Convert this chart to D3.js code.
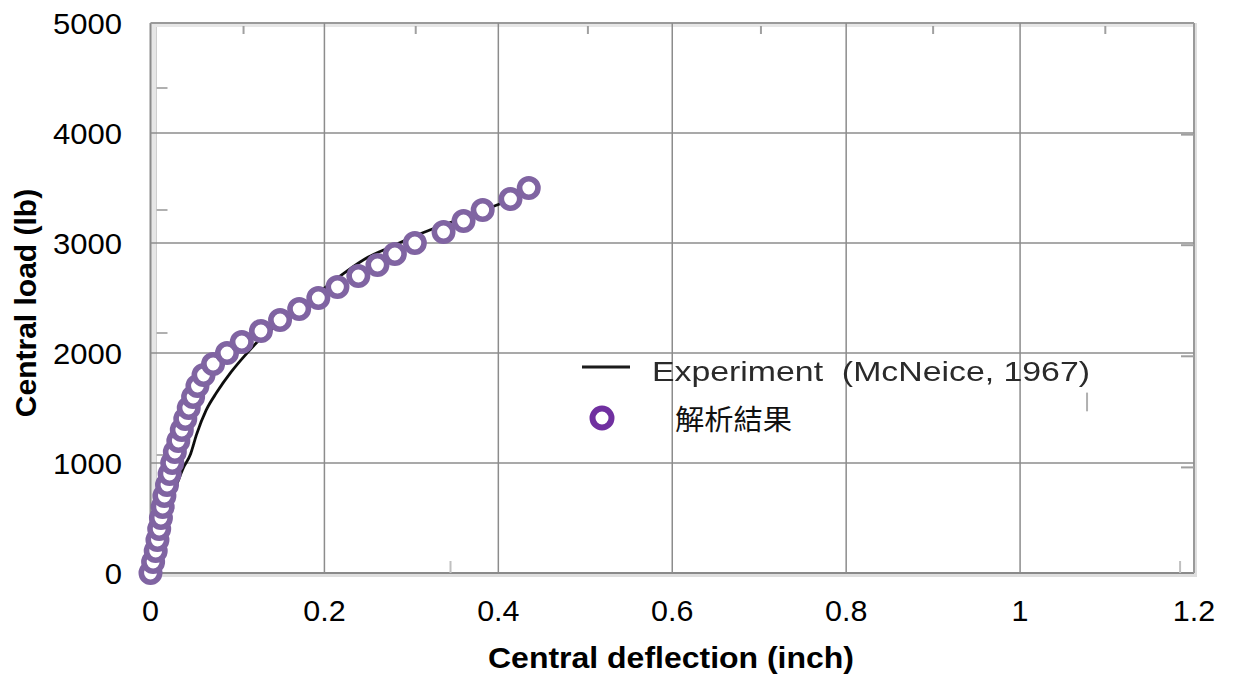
<!DOCTYPE html>
<html>
<head>
<meta charset="utf-8">
<script src="https://cdn.jsdelivr.net/npm/d3@7"></script>
<style>
  html, body { margin: 0; padding: 0; background: #ffffff; }
  svg { display: block; }
</style>
</head>
<body>
<svg id="chart" width="1236" height="675"></svg>
<script>
// ---- data ----
const xTickValues = [0, 0.2, 0.4, 0.6, 0.8, 1, 1.2];
const xTickLabels = ["0", "0.2", "0.4", "0.6", "0.8", "1", "1.2"];
const yTickValues = [0, 1000, 2000, 3000, 4000, 5000];
const yTickLabels = ["0", "1000", "2000", "3000", "4000", "5000"];

// analysis results (解析結果): central load (lb) vs central deflection (inch)
const analysisLoad = [0, 100, 200, 300, 400, 500, 600, 700, 800, 900,
  1000, 1100, 1200, 1300, 1400, 1500, 1600, 1700, 1800, 1900,
  2000, 2100, 2200, 2300, 2400, 2500, 2600, 2700, 2800, 2900,
  3000, 3100, 3200, 3300, 3400, 3500];
const analysisDefl = [0, 0.003, 0.006, 0.008, 0.010, 0.012, 0.014, 0.016, 0.019, 0.022,
  0.025, 0.028, 0.032, 0.036, 0.040, 0.044, 0.049, 0.054, 0.061, 0.072,
  0.088, 0.105, 0.127, 0.149, 0.171, 0.193, 0.215, 0.239, 0.261, 0.281,
  0.304, 0.337, 0.360, 0.382, 0.414, 0.435];

// experiment (McNeice, 1967)
const expDefl = [0, 0.01, 0.02, 0.03, 0.038, 0.046, 0.053, 0.064, 0.076, 0.093,
  0.11, 0.128, 0.15, 0.175, 0.2, 0.225, 0.25, 0.275, 0.3, 0.325, 0.35, 0.375, 0.4, 0.425];
const expLoad = [0, 300, 570, 800, 960, 1080, 1260, 1480, 1640, 1830,
  1990, 2140, 2280, 2440, 2590, 2740, 2870, 2960, 3050, 3130, 3200, 3270, 3350, 3420];

// faint tick marks from the scanned original figure
const scanTopTicks = [0.107, 0.305, 0.503, 0.702, 0.900, 1.098];
const scanLeftTicks = [1073, 2182, 3300, 4409];
const scanRightTicks = [960, 1970, 2980, 3985];
const scanBottomTicks = [0.345, 1.184];

const legendLabels = ["Experiment  (McNeice, 1967)", "解析結果"];
const xTitle = "Central deflection (inch)";
const yTitle = "Central load (lb)";

// ---- drawing ----
const svg = d3.select("#chart");
const x = d3.scaleLinear().domain([0, 1.2]).range([150.5, 1194]);
const y = d3.scaleLinear().domain([0, 5000]).range([573, 23]);

const defs = svg.append("defs");
defs.append("filter").attr("id", "soft")
  .attr("filterUnits", "userSpaceOnUse")
  .attr("x", 0).attr("y", 0).attr("width", 1236).attr("height", 675)
  .append("feGaussianBlur").attr("stdDeviation", 0.55);

const L = x(0), R = x(1.2), T = y(5000), B = y(0);

// scanned-frame light bands
const frame = svg.append("g");
frame.append("rect").attr("x", L).attr("y", T).attr("width", 6).attr("height", B - T).attr("fill", "#e6e6e6");
frame.append("rect").attr("x", L).attr("y", T).attr("width", R - L).attr("height", 4).attr("fill", "#e6e6e6");
frame.append("rect").attr("x", L).attr("y", B).attr("width", R - L + 3).attr("height", 4).attr("fill", "#dedede");
frame.append("rect").attr("x", R).attr("y", T).attr("width", 3).attr("height", B - T + 4).attr("fill", "#dedede");

// grid
const grid = svg.append("g");
grid.selectAll("line.gx").data(xTickValues.filter(v => v > 0 && v < 1.2)).join("line")
  .attr("x1", d => x(d)).attr("x2", d => x(d)).attr("y1", T).attr("y2", B)
  .attr("stroke", "#8c8c8c").attr("stroke-width", 1.5);
grid.selectAll("line.gy").data(yTickValues.filter(v => v > 0 && v < 5000)).join("line")
  .attr("x1", L).attr("x2", R).attr("y1", d => y(d)).attr("y2", d => y(d))
  .attr("stroke", "#8c8c8c").attr("stroke-width", 1.5);

// frame lines
frame.append("line").attr("x1", L).attr("x2", L).attr("y1", T).attr("y2", B + 2).attr("stroke", "#8a8a8a").attr("stroke-width", 2);
frame.append("line").attr("x1", L + 6).attr("x2", L + 6).attr("y1", T + 4).attr("y2", B).attr("stroke", "#cfcfcf").attr("stroke-width", 1);
frame.append("line").attr("x1", L).attr("x2", R).attr("y1", T).attr("y2", T).attr("stroke", "#9a9a9a").attr("stroke-width", 2);
frame.append("line").attr("x1", L).attr("x2", R).attr("y1", B).attr("y2", B).attr("stroke", "#8a8a8a").attr("stroke-width", 2);
frame.append("line").attr("x1", R).attr("x2", R).attr("y1", T).attr("y2", B).attr("stroke", "#9a9a9a").attr("stroke-width", 2);

// scanned tick marks
const scan = svg.append("g").attr("filter", "url(#soft)");
scan.selectAll("line.t").data(scanTopTicks).join("line")
  .attr("x1", d => x(d)).attr("x2", d => x(d)).attr("y1", T + 3).attr("y2", T + 11)
  .attr("stroke", "#a0a0a0").attr("stroke-width", 2);
scan.selectAll("line.l").data(scanLeftTicks).join("line")
  .attr("x1", L + 6).attr("x2", L + 17).attr("y1", d => y(d)).attr("y2", d => y(d))
  .attr("stroke", "#b0b0b0").attr("stroke-width", 2);
scan.selectAll("line.r").data(scanRightTicks).join("line")
  .attr("x1", R - 13).attr("x2", R).attr("y1", d => y(d)).attr("y2", d => y(d))
  .attr("stroke", "#a0a0a0").attr("stroke-width", 2);
scan.selectAll("line.b").data(scanBottomTicks).join("line")
  .attr("x1", d => x(d)).attr("x2", d => x(d)).attr("y1", B - 12).attr("y2", B)
  .attr("stroke", "#c0c0c0").attr("stroke-width", 2);
scan.append("line").attr("x1", x(1.077)).attr("x2", x(1.077)).attr("y1", y(1640)).attr("y2", y(1470))
  .attr("stroke", "#b0b0b0").attr("stroke-width", 2);

// axis tick labels
const font = "'Liberation Sans', Arial, Helvetica, sans-serif";
svg.append("g").selectAll("text").data(yTickValues).join("text")
  .attr("transform", d => `translate(122,${y(d) + 10.5}) scale(1.07,1)`)
  .attr("text-anchor", "end").attr("font-family", font).attr("font-size", 29).attr("fill", "#000")
  .text((d, i) => yTickLabels[i]);
svg.append("g").selectAll("text").data(xTickValues).join("text")
  .attr("transform", d => `translate(${x(d)},621) scale(1.05,1)`)
  .attr("text-anchor", "middle").attr("font-family", font).attr("font-size", 29).attr("fill", "#000")
  .text((d, i) => xTickLabels[i]);

// axis titles
svg.append("text").attr("x", 671).attr("y", 668).attr("text-anchor", "middle")
  .attr("font-family", font).attr("font-weight", "bold").attr("font-size", 30).attr("fill", "#000")
  .attr("textLength", 366).attr("lengthAdjust", "spacingAndGlyphs")
  .text(xTitle);
svg.append("text").attr("transform", "translate(36,303) rotate(-90)").attr("text-anchor", "middle")
  .attr("font-family", font).attr("font-weight", "bold").attr("font-size", 30).attr("fill", "#000")
  .text(yTitle);

// experiment line
const line = d3.line().x((d, i) => x(expDefl[i])).y((d, i) => y(expLoad[i])).curve(d3.curveMonotoneX);
svg.append("path").datum(expDefl).attr("d", line)
  .attr("fill", "none").attr("stroke", "#111").attr("stroke-width", 2.8)
  .attr("filter", "url(#soft)");

// analysis circles
svg.append("g").selectAll("circle").data(analysisLoad).join("circle")
  .attr("cx", (d, i) => x(analysisDefl[i])).attr("cy", d => y(d)).attr("r", 9.2)
  .attr("fill", "#fff").attr("stroke", "#8064A2").attr("stroke-width", 5.6);

// legend
const lg = svg.append("g");
lg.append("line").attr("x1", 582).attr("x2", 630).attr("y1", 367).attr("y2", 367)
  .attr("stroke", "#1a1a1a").attr("stroke-width", 2.8).attr("filter", "url(#soft)");
lg.append("text").attr("x", 652).attr("y", 381)
  .attr("font-family", font).attr("font-size", 28).attr("fill", "#2a2a2a")
  .style("white-space", "pre")
  .attr("textLength", 438).attr("lengthAdjust", "spacingAndGlyphs")
  .attr("filter", "url(#soft)")
  .text(legendLabels[0]);
lg.append("circle").attr("cx", 602).attr("cy", 418).attr("r", 9.5)
  .attr("fill", "#fff").attr("stroke", "#7030A0").attr("stroke-width", 6);
lg.append("text").attr("x", 675).attr("y", 430)
  .attr("font-family", "'Noto Sans CJK TC', 'Noto Sans CJK JP', sans-serif").attr("font-size", 28).attr("fill", "#111")
  .attr("textLength", 117).attr("lengthAdjust", "spacingAndGlyphs")
  .text(legendLabels[1]);
</script>
</body>
</html>
